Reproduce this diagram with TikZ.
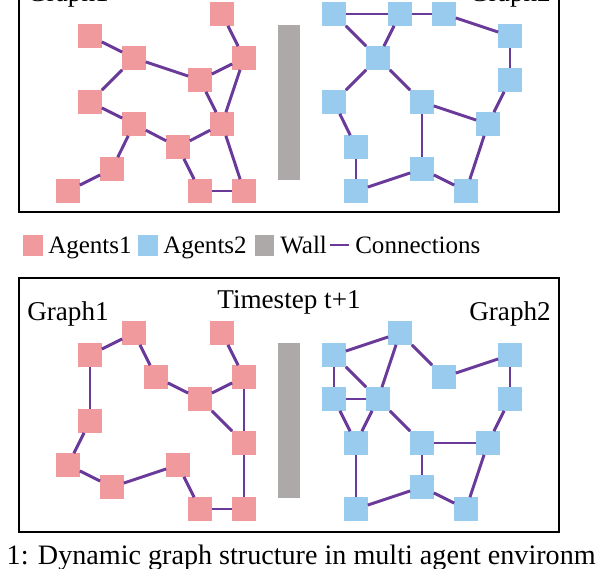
\documentclass[tikz,border=0pt]{standalone}
\usepackage{fontspec}
\setmainfont{Liberation Serif}
\definecolor{agentpink}{HTML}{F09A9E}
\definecolor{agentblue}{HTML}{99CBEE}
\definecolor{wallgray}{HTML}{ADA9A8}
\definecolor{linkpurple}{HTML}{6A3A9A}
\tikzset{
  agent/.style={rectangle, inner sep=0pt, minimum size=16.4pt, draw=none},
  agentA/.style={agent, fill=agentpink},
  agentB/.style={agent, fill=agentblue},
  link/.style={draw=linkpurple, line width=2.1pt},
  frame/.style={draw=black, line width=1.8pt},
  wall/.style={fill=wallgray},
  lbl/.style={font=\fontsize{17.8}{20}\selectfont, inner sep=0pt},
  title/.style={font=\fontsize{19.3}{22}\selectfont, inner sep=0pt}
}
\begin{document}
\begin{tikzpicture}[x=0.025cm, y=-0.025cm]
  \useasboundingbox (0,0) rectangle (596,568);
  % frames and walls
  \draw[frame] (19,-41) rectangle (559,212);
  \draw[frame] (19,278) rectangle (559,532);
  \fill[wall] (278,25) rectangle (300,180);
  \fill[wall] (278,343) rectangle (300,498);
  % labels
  \node[title, anchor=base west] (tg1) at (27,1) {Graph1};
  \node[title, anchor=base east] (tg2) at (551,1) {Graph2};
  \node[title, anchor=base west] (bg1) at (27,320) {Graph1};
  \node[title, anchor=base east] (bg2) at (551,320) {Graph2};
  \node[title, anchor=base] (bts) at (289,308) {Timestep t+1};
  % timestep t, agents
  \foreach \n/\x/\y in {1/222/14, 2/90/36, 3/134/58, 4/244/58, 5/200/80,
      6/90/102, 7/134/124, 8/222/124, 9/178/147, 10/112/169, 11/68/191,
      12/200/191, 13/244/191}
    \node[agentA] (ta\n) at (\x,\y) {};
  \foreach \n/\x/\y in {1/334/14, 2/400/14, 3/444/14, 4/510/36, 5/378/58,
      6/510/80, 7/334/102, 8/422/102, 9/488/124, 10/356/147, 11/422/169,
      12/356/191, 13/466/191}
    \node[agentB] (tb\n) at (\x,\y) {};
  \foreach \i/\j in {1/4, 2/3, 3/5, 3/6, 4/5, 4/8, 5/8, 6/7, 7/9, 7/10,
      10/11, 9/8, 9/12, 12/13, 8/13}
    \draw[link] (ta\i) -- (ta\j);
  \foreach \i/\j in {1/2, 2/3, 3/4, 4/6, 1/5, 2/5, 5/7, 5/8, 7/10, 10/12,
      12/11, 11/8, 8/9, 6/9, 9/13, 11/13}
    \draw[link] (tb\i) -- (tb\j);
  % timestep t+1, agents
  \foreach \n/\x/\y in {1/134/333, 2/222/333, 3/90/355, 4/156/377, 5/244/377,
      6/200/399, 7/90/421, 8/244/443, 9/68/465, 10/178/465, 11/112/487,
      12/200/509, 13/244/509}
    \node[agentA] (ba\n) at (\x,\y) {};
  \foreach \n/\x/\y in {1/400/333, 2/334/355, 3/510/355, 4/444/377, 5/334/399,
      6/378/399, 7/510/399, 8/356/443, 9/422/443, 10/488/443, 11/422/487,
      12/356/509, 13/466/509}
    \node[agentB] (bb\n) at (\x,\y) {};
  \foreach \i/\j in {3/1, 1/4, 4/6, 6/5, 2/5, 6/8, 5/8, 3/7, 7/9, 9/11,
      11/10, 10/12, 12/13, 8/13}
    \draw[link] (ba\i) -- (ba\j);
  \foreach \i/\j in {2/1, 2/6, 2/5, 5/6, 1/6, 1/4, 4/3, 3/7, 7/10, 5/8,
      6/8, 6/9, 9/10, 9/11, 8/12, 12/11, 11/13, 10/13}
    \draw[link] (bb\i) -- (bb\j);
  % legend
  \fill[agentpink] (23,235) rectangle (43,256);
  \node[lbl, anchor=base west] (lg1) at (48,253) {Agents1};
  \fill[agentblue] (138,235) rectangle (158,256);
  \node[lbl, anchor=base west] (lg2) at (163,253) {Agents2};
  \fill[wallgray] (255,235) rectangle (274,256);
  \node[lbl, anchor=base west] (lg3) at (280,253) {Wall};
  \draw[link] (330,245) -- (349,245);
  \node[lbl, anchor=base west] (lg4) at (355,253) {Connections};
  % caption (cut by the page edge)
  \node[font=\fontsize{20}{24}\selectfont, inner sep=0pt, anchor=base west]
    (cap) at (-74,564) {Figure 1: Dynamic graph structure in multi agent environment.};
\end{tikzpicture}
\end{document}
